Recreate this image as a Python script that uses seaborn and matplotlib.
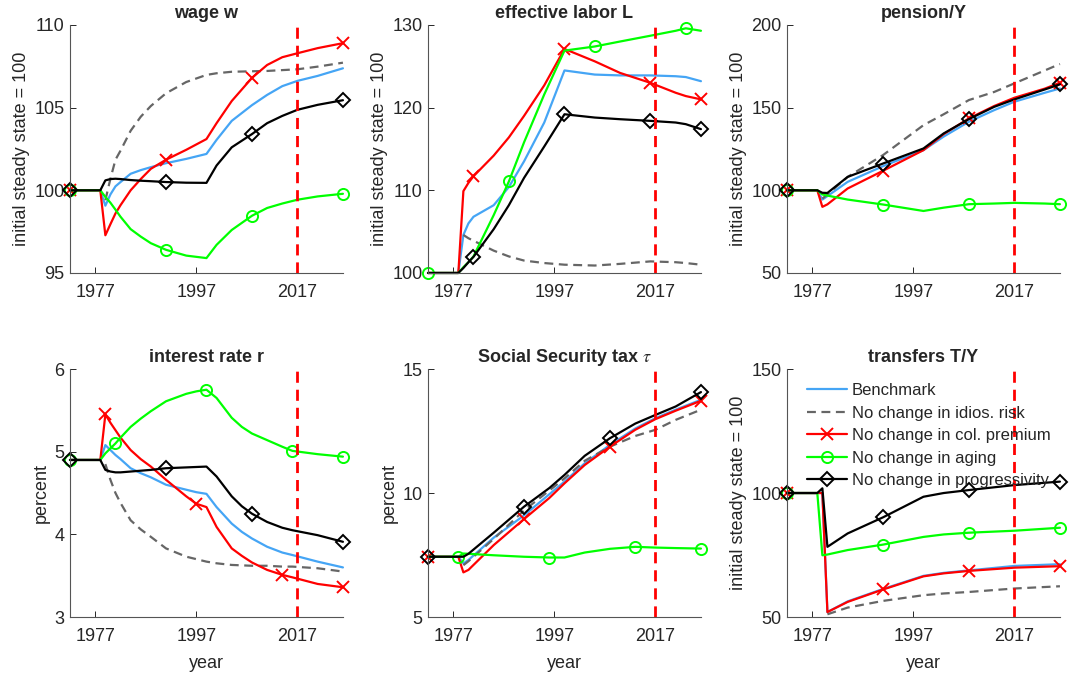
import matplotlib
matplotlib.use("Agg")
import matplotlib.pyplot as plt
import numpy as np
import seaborn as sns

sns.set_style("white")
plt.rcParams["font.family"] = ["Liberation Sans", "DejaVu Sans"]
plt.rcParams["mathtext.fontset"] = "stix"

# scenario names / styles
names = ["Benchmark", "No change in idios. risk", "No change in col. premium",
         "No change in aging", "No change in progressivity"]
colors = ["#45a5f5", "#666666", "#ff0000", "#00ff00", "#000000"]
markers = [None, None, "x", "o", "D"]

nan = np.nan

# wage w
wage_yr = [1972, 1978, 1979, 1980, 1981, 1982, 1984, 1986, 1988, 1991, 1995, 1999, 2001, 2004, 2008, 2011, 2014, 2017, 2021, 2026]
wage_bench = [100, 100, 99.07, 99.75, 100.24, 100.5, 101.0, 101.22, 101.4, 101.64, 101.9, 102.2, 103.05, 104.2, 105.15, 105.77, 106.3, 106.62, 106.92, 107.38]
wage_risk = [nan, nan, 99.4, 100.7, 101.85, 102.4, 103.6, 104.45, 105.1, 105.87, 106.55, 106.98, 107.08, 107.17, 107.2, 107.22, 107.27, 107.32, 107.48, 107.72]
wage_col = [100, 100, 97.28, 97.95, 98.6, 99.1, 100.0, 100.68, 101.3, 101.85, 102.45, 103.1, 104.06, 105.4, 106.8, 107.58, 108.05, 108.29, 108.6, 108.9]
wage_aging = [100, 100, 99.6, 99.25, 98.83, 98.4, 97.65, 97.2, 96.8, 96.4, 96.05, 95.9, 96.7, 97.6, 98.46, 98.93, 99.2, 99.43, 99.63, 99.79]
wage_prog = [100, 100, 100.6, 100.68, 100.7, 100.68, 100.62, 100.58, 100.55, 100.5, 100.46, 100.45, 101.5, 102.6, 103.4, 104.06, 104.5, 104.87, 105.17, 105.45]
wage_marks = [None, None, [0, 9, 14, 19], [0, 9, 14, 19], [0, 9, 14, 19]]

# effective labor L
lab_yr = [1972, 1978, 1979, 1980, 1981, 1985, 1988, 1991, 1995, 1999, 2005, 2010, 2016, 2021, 2023, 2026]
lab_bench = [100, 100, 104.6, 106.0, 106.8, 108.2, 110.4, 113.5, 118.2, 124.5, 124.0, 123.9, 123.9, 123.8, 123.7, 123.2]
lab_risk = [nan, nan, 104.6, 104.2, 103.9, 102.7, 102.0, 101.5, 101.2, 101.0, 100.9, 101.1, 101.4, 101.3, 101.2, 101.0]
lab_col = [100, 100, 109.9, 110.9, 111.7, 114.2, 116.4, 119.0, 122.7, 127.1, 125.6, 124.2, 123.0, 121.8, 121.4, 121.0]
lab_aging = [100, 100, 100.7, 101.3, 102.0, 107.0, 111.07, 115.8, 121.6, 126.9, 127.4, 128.0, 128.7, 129.3, 129.6, 129.3]
lab_prog = [100, 100, 100.6, 101.3, 101.95, 105.3, 108.2, 111.5, 115.3, 119.2, 118.8, 118.6, 118.4, 118.2, 118.0, 117.4]
lab_marks = [None, None, [4, 9, 12, 15], [0, 6, 10, 14], [4, 9, 12, 15]]

# pension/Y
pen_yr = [1972, 1978, 1979, 1980, 1984, 1991, 1999, 2003, 2008, 2013, 2017, 2023, 2026]
pen_bench = [100, 100, 94.4, 96.5, 105.1, 114.6, 124.3, 132.5, 141.5, 148.5, 153.6, 159.0, 161.6]
pen_risk = [nan, nan, 95.0, 97.5, 108.1, 121.3, 139.4, 146.0, 154.6, 159.5, 164.7, 172.5, 176.4]
pen_col = [100, 100, 90.0, 91.5, 101.1, 111.8, 124.3, 134.0, 143.5, 151.0, 156.0, 161.5, 165.1]
pen_aging = [100, 100, 97.5, 96.8, 94.4, 91.4, 87.5, 89.5, 91.6, 92.0, 92.4, 92.0, 91.6]
pen_prog = [100, 100, 98.5, 98.4, 108.1, 116.2, 125.3, 134.4, 143.1, 150.5, 155.0, 161.0, 164.1]
pen_marks = [None, None, [0, 5, 8, 12], [0, 5, 8, 12], [0, 5, 8, 12]]

# interest rate r
rate_yr = [1972, 1978, 1979, 1980, 1981, 1982, 1984, 1986, 1988, 1991, 1995, 1997, 1999, 2001, 2004, 2006, 2008, 2011, 2014, 2016, 2021, 2026]
rate_bench = [4.9, 4.9, 5.08, 5.02, 4.96, 4.91, 4.80, 4.74, 4.69, 4.60, 4.54, 4.51, 4.49, 4.33, 4.13, 4.03, 3.95, 3.85, 3.78, 3.75, 3.67, 3.60]
rate_risk = [nan, nan, 4.85, 4.66, 4.50, 4.38, 4.17, 4.06, 3.97, 3.83, 3.73, 3.70, 3.67, 3.65, 3.63, 3.625, 3.62, 3.62, 3.61, 3.61, 3.59, 3.55]
rate_col = [4.9, 4.9, 5.45, 5.35, 5.26, 5.17, 5.02, 4.91, 4.82, 4.66, 4.46, 4.37, 4.33, 4.09, 3.83, 3.74, 3.66, 3.57, 3.51, 3.48, 3.40, 3.36]
rate_aging = [4.9, 4.9, 4.98, 5.04, 5.10, 5.17, 5.30, 5.40, 5.49, 5.61, 5.70, 5.73, 5.75, 5.65, 5.41, 5.30, 5.22, 5.14, 5.06, 5.01, 4.97, 4.94]
rate_prog = [4.9, 4.9, 4.78, 4.76, 4.75, 4.75, 4.76, 4.77, 4.78, 4.80, 4.81, 4.815, 4.82, 4.70, 4.46, 4.34, 4.25, 4.15, 4.08, 4.05, 3.99, 3.91]
rate_marks = [None, None, [2, 11, 18, 21], [0, 4, 12, 19, 21], [0, 9, 16, 21]]

# social security tax tau
tax_yr = [1972, 1978, 1979, 1980, 1985, 1991, 1996, 1999, 2003, 2008, 2013, 2017, 2021, 2026]
tax_bench = [7.43, 7.43, 7.16, 7.3, 8.2, 9.1, 9.95, 10.46, 11.2, 11.94, 12.6, 13.02, 13.36, 13.76]
tax_risk = [nan, nan, 7.09, 7.25, 8.15, 9.3, 10.1, 10.59, 11.3, 11.87, 12.3, 12.55, 12.95, 13.36]
tax_col = [7.43, 7.43, 6.8, 6.9, 7.9, 8.95, 9.8, 10.39, 11.13, 11.87, 12.55, 12.98, 13.32, 13.72]
tax_aging = [7.43, 7.43, 7.56, 7.55, 7.49, 7.43, 7.4, 7.4, 7.6, 7.75, 7.83, 7.8, 7.78, 7.76]
tax_prog = [7.43, 7.43, 7.43, 7.55, 8.4, 9.45, 10.2, 10.73, 11.5, 12.21, 12.8, 13.15, 13.49, 14.07]
tax_marks = [None, None, [0, 5, 9, 13], [1, 6, 10, 13], [0, 5, 9, 13]]

# transfers T/Y
tr_yr = [1972, 1978, 1979, 1980, 1984, 1991, 1999, 2003, 2008, 2017, 2026]
tr_bench = [100, 100, 100, 52.0, 56.3, 61.3, 66.6, 67.8, 68.8, 70.6, 71.3]
tr_risk = [nan, nan, nan, 51.1, 53.8, 56.5, 58.8, 59.5, 60.1, 61.5, 62.4]
tr_col = [100, 100, 100, 52.0, 56.1, 61.1, 66.4, 67.6, 68.6, 69.9, 70.5]
tr_aging = [100, 100, 74.9, 75.2, 77.0, 79.2, 82.3, 83.3, 84.0, 84.8, 86.0]
tr_prog = [100, 100, 101.9, 78.3, 83.7, 90.2, 98.5, 100.0, 101.2, 103.2, 104.6]
tr_marks = [None, None, [0, 5, 8, 10], [0, 5, 8, 10], [0, 5, 8, 10]]

panels = [
    ("wage w", wage_yr, [wage_bench, wage_risk, wage_col, wage_aging, wage_prog], wage_marks,
     [95, 100, 105, 110], "initial steady state = 100"),
    ("effective labor L", lab_yr, [lab_bench, lab_risk, lab_col, lab_aging, lab_prog], lab_marks,
     [100, 110, 120, 130], "initial steady state = 100"),
    ("pension/Y", pen_yr, [pen_bench, pen_risk, pen_col, pen_aging, pen_prog], pen_marks,
     [50, 100, 150, 200], "initial steady state = 100"),
    ("interest rate r", rate_yr, [rate_bench, rate_risk, rate_col, rate_aging, rate_prog], rate_marks,
     [3, 4, 5, 6], "percent"),
    (r"Social Security tax $\tau$", tax_yr, [tax_bench, tax_risk, tax_col, tax_aging, tax_prog], tax_marks,
     [5, 10, 15], "percent"),
    ("transfers T/Y", tr_yr, [tr_bench, tr_risk, tr_col, tr_aging, tr_prog], tr_marks,
     [50, 100, 150], "initial steady state = 100"),
]

fig = plt.figure(figsize=(10.7, 6.77), dpi=100)
lefts = [0.0654, 0.40, 0.7355]
bottoms = [0.5968, 0.0886]
w, h = 0.2551, 0.3663

for i, (title, yr, series, marks, yticks, ylab) in enumerate(panels):
    ax = fig.add_axes([lefts[i % 3], bottoms[i // 3], w, h])
    for j, vals in enumerate(series):
        kw = dict(color=colors[j], lw=1.6, clip_on=False, label=names[j])
        if j == 1:
            kw["linestyle"] = (0, (4, 2.5))
        if markers[j] is not None:
            kw.update(marker=markers[j], markevery=marks[j], ms=8 if markers[j] != "D" else 7.5,
                      markerfacecolor="none", markeredgecolor=colors[j], markeredgewidth=1.4)
        sns.lineplot(x=yr, y=vals, ax=ax, **kw)
    ax.axvline(2017, color="#ff0000", lw=2, linestyle=(0, (4, 2.5)))
    ax.set_xlim(1972, 2026)
    ax.set_ylim(yticks[0], yticks[-1])
    ax.set_xticks([1977, 1997, 2017])
    ax.set_yticks(yticks)
    ax.tick_params(direction="in", length=4, width=0.7, labelsize=13, colors="#262626",
                   bottom=True, left=True, pad=4)
    ax.tick_params(axis="x", pad=8)
    for s in ["top", "right"]:
        ax.spines[s].set_visible(False)
    for s in ["left", "bottom"]:
        ax.spines[s].set_color("#555555")
        ax.spines[s].set_linewidth(0.8)
    ax.set_title(title, fontsize=13, fontweight="bold", pad=5)
    ax.set_ylabel(ylab, fontsize=13, color="#262626", labelpad=3)
    if i >= 3:
        ax.set_xlabel("year", fontsize=13, color="#262626", labelpad=7)
    else:
        ax.set_xlabel("")
    if i == 5:
        ax.legend(loc="upper left", bbox_to_anchor=(0.048, 0.97), frameon=False, fontsize=12,
                  handlelength=2.4, handletextpad=0.3, labelspacing=0.45, borderaxespad=0)
    elif ax.get_legend() is not None:
        ax.get_legend().remove()

fig.savefig("out.png", dpi=100)
